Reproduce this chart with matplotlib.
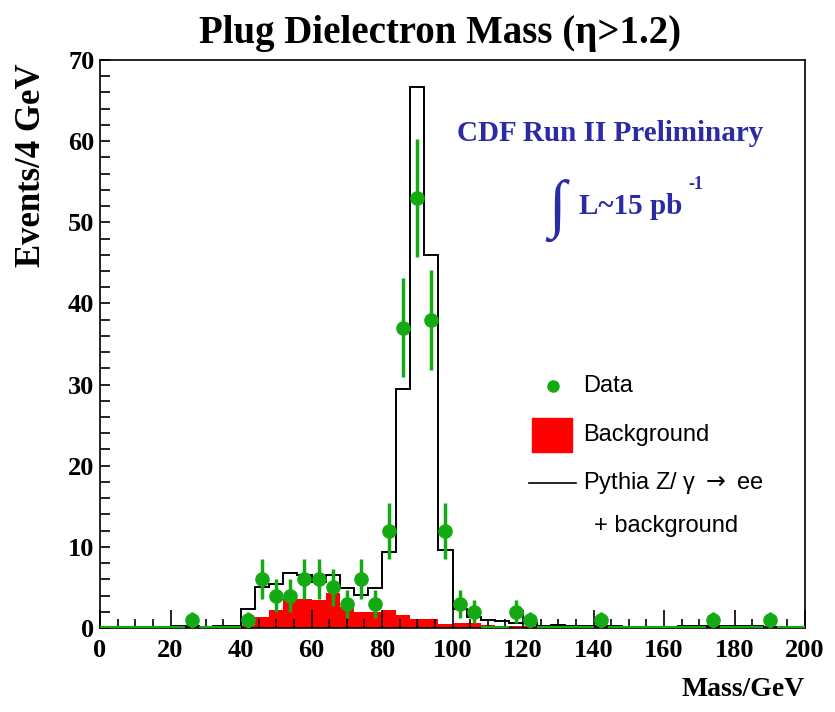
import numpy as np
import matplotlib
matplotlib.use("Agg")
import matplotlib.pyplot as plt
from matplotlib.ticker import MultipleLocator
from matplotlib.patches import Rectangle
from matplotlib.lines import Line2D

# 4 GeV bins from 0 to 200 GeV
edges = np.arange(0, 204, 4)

# Pythia Z/gamma -> ee + background (black step)
total = [0, 0, 0, 0, 0, 0.25, 0.25, 0.1, 0.25, 0.3,
         2.3, 5.1, 5.4, 6.8, 6.5, 5.7, 6.5, 4.9, 4.1, 4.9,
         9.4, 29.4, 66.7, 46.0, 9.6, 2.4, 1.4, 1.0, 0.9, 0.65,
         0.6, 0.25, 0.4, 0.3, 0.2, 0.25, 0.2, 0.15, 0.1, 0.1,
         0.1, 0.2, 0.3, 0.3, 0.2, 0.2, 0.2, 0.1, 0.1, 0.15]

# background (red filled)
background = [0, 0, 0, 0, 0, 0.2, 0.2, 0.05, 0.1, 0.1,
              0.4, 1.3, 2.2, 3.6, 3.6, 3.5, 4.3, 2.6, 2.0, 2.0,
              2.2, 1.6, 1.1, 1.1, 0.45, 0.65, 0.65, 0.4, 0.3, 0.3,
              0.3, 0.1, 0.3, 0.1, 0.1, 0.3, 0.25, 0.25, 0.1, 0.05,
              0.05, 0.25, 0.4, 0.4, 0.3, 0.25, 0.25, 0.3, 0.05, 0.3]

# data counts per bin
data = [0, 0, 0, 0, 0, 0, 1, 0, 0, 0,
        1, 6, 4, 4, 6, 6, 5, 3, 6, 3,
        12, 37, 53, 38, 12, 3, 2, 0, 0, 2,
        1, 0, 0, 0, 0, 1, 0, 0, 0, 0,
        0, 0, 0, 1, 0, 0, 0, 1, 0, 0]

green = "#13aa13"
blue = "#2b2ba6"
serif = ["Liberation Serif", "DejaVu Serif"]
sans = ["Liberation Sans", "DejaVu Sans"]

fig = plt.figure(figsize=(8.35, 7.12), dpi=100)
ax = fig.add_axes([100 / 835, 84 / 712, 705 / 835, 568 / 712])

centers = (edges[:-1] + edges[1:]) / 2
counts = np.array(data, dtype=float)

bg_step = np.append(background, background[-1])
ax.fill_between(edges, bg_step, step="post", color="red", lw=0, zorder=1)
ax.stairs(total, edges, color="black", lw=1.4, zorder=2)

# empty data bins: flat green segments on the axis
empty = counts == 0
ax.hlines(np.zeros(empty.sum()), edges[:-1][empty], edges[1:][empty],
          color=green, lw=3, zorder=3)
full = ~empty
ax.errorbar(centers[full], counts[full], yerr=np.sqrt(counts[full]),
            fmt="o", color=green, ms=9.5, elinewidth=2.5, capsize=0, zorder=4)

ax.set_xlim(0, 200)
ax.set_ylim(0, 70)
ax.xaxis.set_major_locator(MultipleLocator(20))
ax.xaxis.set_minor_locator(MultipleLocator(5))
ax.yaxis.set_major_locator(MultipleLocator(10))
ax.yaxis.set_minor_locator(MultipleLocator(2))
ax.tick_params(axis="x", which="major", direction="in", length=13, width=1.2,
               top=False, pad=8)
ax.tick_params(axis="x", which="minor", direction="in", length=6.5, width=1.2,
               top=False)
ax.tick_params(axis="y", which="both", direction="in", length=7, width=1.2,
               right=False, pad=4)
for lab in ax.get_xticklabels() + ax.get_yticklabels():
    lab.set_family(serif)
    lab.set_fontweight("bold")
    lab.set_fontsize(19)
for s in ax.spines.values():
    s.set_linewidth(1.2)

fig.text(440 / 835, 1 - 33 / 712, "Plug Dielectron Mass (\u03b7>1.2)",
         family=serif, fontweight="bold", fontsize=28, ha="center", va="center")
fig.text(31 / 835, 1 - 165 / 712, "Events/4 GeV", rotation=90,
         family=serif, fontweight="bold", fontsize=25, ha="center", va="center")
fig.text(805 / 835, 1 - 690 / 712, "Mass/GeV",
         family=serif, fontweight="bold", fontsize=20, ha="right", va="center")

# CDF label
ax.text(0.506, 0.87, "CDF Run II Preliminary", transform=ax.transAxes,
        family=serif, fontweight="bold", fontsize=21, color=blue,
        ha="left", va="center")
ax.text(0.649, 0.736, "\u222b", transform=ax.transAxes,
        family=serif, fontsize=46, color=blue, ha="center", va="center")
ax.text(0.68, 0.742, "L~15 pb", transform=ax.transAxes,
        family=serif, fontweight="bold", fontsize=21, color=blue,
        ha="left", va="center")
ax.text(0.834, 0.78, "-1", transform=ax.transAxes,
        family=serif, fontweight="bold", fontsize=13, color=blue,
        ha="left", va="center")

# legend drawn by hand, ROOT style
ax.add_line(Line2D([0.6426], [0.426], marker="o", color=green, ms=8,
                   transform=ax.transAxes))
ax.add_patch(Rectangle((0.613, 0.310), 0.057, 0.060, color="red",
                       transform=ax.transAxes))
ax.add_line(Line2D([0.6085, 0.675], [0.2553, 0.2553], color="black", lw=1.2,
                   transform=ax.transAxes))
leg_kw = dict(transform=ax.transAxes, family=sans, fontsize=17,
              ha="left", va="center")
ax.text(0.685, 0.426, "Data", **leg_kw)
ax.text(0.685, 0.340, "Background", **leg_kw)
ax.text(0.685, 0.2553, "Pythia Z/ \u03b3 $\\rightarrow$ ee", **leg_kw)
ax.text(0.700, 0.1796, "+ background", **leg_kw)

fig.savefig("out.png", dpi=100)
